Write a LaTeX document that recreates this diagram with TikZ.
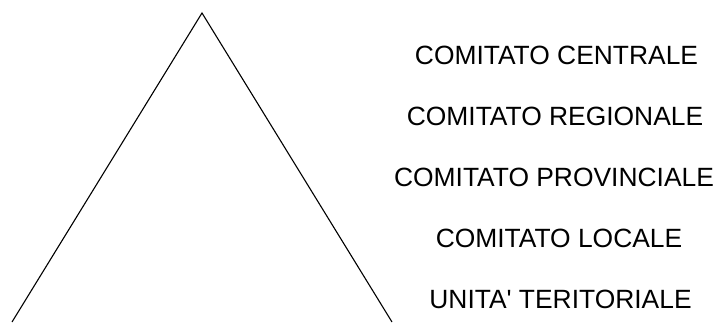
\documentclass[tikz,border=0pt]{standalone}
\usepackage{fontspec}
\setmainfont{Liberation Sans}
\begin{document}
\begin{tikzpicture}[x=1pt,y=-1pt,
  lbl/.style={font=\fontsize{26.4}{30}\selectfont, inner sep=0pt, anchor=center},
  edge/.style={draw=black, line width=1.1pt}]
\useasboundingbox (0,0) rectangle (721,322);
\coordinate (apex) at (202,13);
\coordinate (bl) at (12,322);
\coordinate (br) at (392,322);
\draw[edge] (bl) -- (apex) -- (br);
\node[lbl] (c1) at (556.5,55) {COMITATO CENTRALE};
\node[lbl] (c2) at (555,116) {COMITATO REGIONALE};
\node[lbl] (c3) at (554,177) {COMITATO PROVINCIALE};
\node[lbl] (c4) at (559,238) {COMITATO LOCALE};
\node[lbl] (c5) at (560.5,299) {UNITA\textquotesingle{} TERITORIALE};
\end{tikzpicture}
\end{document}
